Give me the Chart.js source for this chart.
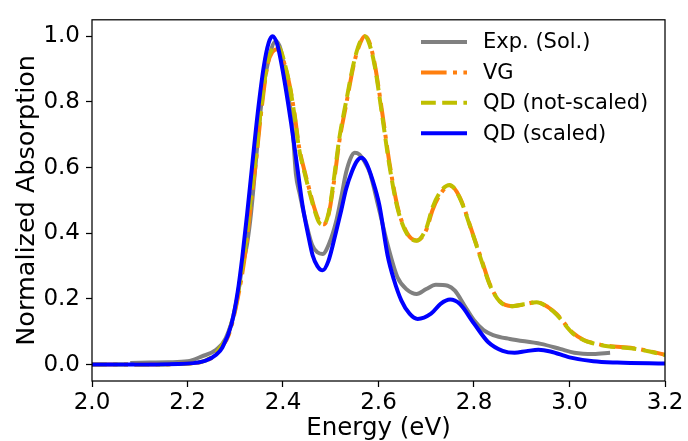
<!DOCTYPE html>
<html>
<head>
<meta charset="utf-8">
<script src="https://cdn.jsdelivr.net/npm/chart.js@4.4.0/dist/chart.umd.min.js"></script>
<style>
  html, body { margin: 0; padding: 0; background: #fff; }
</style>
</head>
<body>
<canvas id="myChart" width="688" height="441"></canvas>
<script>
// absorption spectra, energy in eV
var expE = [2.08,2.12,2.16,2.20,2.23,2.26,2.28,2.30,2.315,2.325,2.333,2.342,2.355,2.37,2.385,2.395,2.41,2.42,2.427,2.435,2.447,2.461,2.472,2.483,2.497,2.511,2.522,2.532,2.542,2.55,2.56,2.57,2.582,2.60,2.62,2.64,2.66,2.68,2.70,2.72,2.745,2.76,2.78,2.80,2.82,2.84,2.875,2.94,2.98,3.01,3.05,3.085];
var expY = [0.005,0.006,0.007,0.01,0.025,0.045,0.08,0.17,0.3,0.37,0.46,0.6,0.8,0.93,0.985,0.96,0.83,0.72,0.58,0.52,0.44,0.364,0.342,0.337,0.37,0.434,0.51,0.584,0.63,0.645,0.64,0.62,0.584,0.48,0.36,0.265,0.228,0.215,0.23,0.243,0.24,0.225,0.18,0.135,0.105,0.09,0.078,0.063,0.048,0.036,0.032,0.036];

var vgE = [2.0,2.1,2.2,2.25,2.27,2.287,2.308,2.322,2.332,2.343,2.354,2.368,2.378,2.388,2.396,2.403,2.414,2.424,2.434,2.445,2.455,2.465,2.475,2.485,2.496,2.507,2.518,2.532,2.55,2.562,2.571,2.58,2.592,2.608,2.623,2.64,2.66,2.68,2.70,2.713,2.73,2.749,2.77,2.797,2.818,2.833,2.854,2.88,2.905,2.931,2.955,2.973,3.007,3.03,3.049,3.08,3.133,3.17,3.2];
var vgY = [0,0,0.003,0.02,0.05,0.093,0.223,0.35,0.48,0.614,0.765,0.916,0.952,0.96,0.948,0.916,0.85,0.765,0.66,0.59,0.534,0.48,0.44,0.427,0.46,0.56,0.68,0.79,0.925,0.98,1.0,0.985,0.916,0.765,0.614,0.48,0.40,0.378,0.41,0.47,0.52,0.545,0.51,0.40,0.31,0.245,0.193,0.178,0.183,0.19,0.175,0.154,0.097,0.075,0.066,0.057,0.05,0.04,0.03];

// QD (not-scaled) shares the VG energy grid
var qdY = [0,0,0.003,0.022,0.055,0.1,0.235,0.37,0.5,0.635,0.78,0.925,0.962,0.97,0.955,0.92,0.85,0.76,0.655,0.585,0.528,0.475,0.434,0.426,0.465,0.57,0.69,0.80,0.93,0.985,1.0,0.98,0.91,0.755,0.605,0.475,0.397,0.377,0.415,0.478,0.527,0.547,0.508,0.398,0.306,0.243,0.192,0.178,0.184,0.19,0.174,0.152,0.095,0.074,0.065,0.056,0.049,0.039,0.029];

var qdsE = [2.0,2.1,2.2,2.238,2.26,2.273,2.292,2.305,2.315,2.325,2.335,2.347,2.36,2.37,2.378,2.388,2.40,2.417,2.43,2.441,2.452,2.462,2.472,2.483,2.495,2.511,2.522,2.532,2.545,2.555,2.564,2.574,2.588,2.602,2.619,2.632,2.648,2.665,2.682,2.71,2.73,2.75,2.77,2.80,2.83,2.86,2.885,2.91,2.935,2.96,3.0,3.05,3.1,3.2];
var qdsY = [0,0,0.003,0.012,0.03,0.052,0.123,0.22,0.33,0.46,0.6,0.765,0.91,0.98,1.0,0.975,0.89,0.735,0.60,0.484,0.40,0.333,0.30,0.287,0.315,0.404,0.47,0.534,0.59,0.62,0.63,0.615,0.56,0.484,0.333,0.26,0.195,0.155,0.139,0.155,0.185,0.198,0.185,0.125,0.068,0.042,0.036,0.041,0.045,0.04,0.022,0.01,0.006,0.003];

var xTicks = [2.0, 2.2, 2.4, 2.6, 2.8, 3.0, 3.2];
var yTicks = [0.0, 0.2, 0.4, 0.6, 0.8, 1.0];
var labels = ["Exp. (Sol.)", "VG", "QD (not-scaled)", "QD (scaled)"];

function pts(xs, ys) {
  return xs.map(function (x, i) { return {x: x, y: ys[i]}; });
}

Chart.defaults.font.family = "'DejaVu Sans', sans-serif";
Chart.defaults.color = "#000";

// box around the plot area
var frame = {
  id: "frame",
  afterDraw: function (chart) {
    var a = chart.chartArea, c = chart.ctx;
    c.save();
    c.strokeStyle = "#000";
    c.lineWidth = 1.25;
    c.strokeRect(a.left, a.top, a.right - a.left, a.bottom - a.top);
    c.restore();
  }
};

// matplotlib-like legend, no frame
var lineLegend = {
  id: "lineLegend",
  afterDraw: function (chart) {
    var c = chart.ctx;
    c.save();
    c.font = "21px 'DejaVu Sans'";
    c.textBaseline = "middle";
    c.fillStyle = "#000";
    chart.data.datasets.forEach(function (ds, row) {
      var y = 42 + row * 30.4;
      c.strokeStyle = ds.borderColor;
      c.lineWidth = ds.borderWidth;
      c.setLineDash(ds.borderDash || []);
      c.lineCap = "butt";
      c.beginPath();
      c.moveTo(421, y);
      c.lineTo(467, y);
      c.stroke();
      c.setLineDash([]);
      c.fillText(ds.label, 483, y + 1);
    });
    c.restore();
  }
};

var ctx = document.getElementById("myChart").getContext("2d");
var myChart = new Chart(ctx, {
  type: "line",
  data: {
    datasets: [
      {
        label: labels[0],
        data: pts(expE, expY),
        borderColor: "#808080",
        borderWidth: 4,
        order: 3
      },
      {
        label: labels[1],
        data: pts(vgE, vgY),
        borderColor: "#ff7f0e",
        borderWidth: 4,
        borderDash: [25.6, 6.4, 4, 6.4],
        order: 2
      },
      {
        label: labels[2],
        data: pts(vgE, qdY),
        borderColor: "#bfbf00",
        borderWidth: 4,
        borderDash: [14.8, 6.4],
        order: 1
      },
      {
        label: labels[3],
        data: pts(qdsE, qdsY),
        borderColor: "#0000ff",
        borderWidth: 4,
        order: 0
      }
    ]
  },
  options: {
    responsive: false,
    animation: false,
    devicePixelRatio: 1,
    layout: { padding: { top: 13, right: 23, left: 0, bottom: 0 } },
    elements: {
      point: { radius: 0 },
      line: { cubicInterpolationMode: "monotone", borderCapStyle: "butt", fill: false }
    },
    plugins: {
      legend: { display: false },
      tooltip: { enabled: false }
    },
    scales: {
      x: {
        type: "linear",
        min: 2.0,
        max: 3.2,
        afterBuildTicks: function (s) { s.ticks = xTicks.map(function (v) { return {value: v}; }); },
        afterFit: function (s) { s.height = 60; },
        grid: { drawOnChartArea: false, drawTicks: true, tickLength: 6, tickWidth: 1.25, tickColor: "#000" },
        border: { display: false },
        ticks: {
          font: { size: 23 },
          padding: 2,
          maxRotation: 0,
          callback: function (v) { return v.toFixed(1); }
        },
        title: {
          display: true,
          text: "Energy (eV)",
          font: { size: 24.5 },
          padding: { top: 0, bottom: -2 }
        }
      },
      y: {
        type: "linear",
        min: -0.05,
        max: 1.05,
        afterBuildTicks: function (s) { s.ticks = yTicks.map(function (v) { return {value: v}; }); },
        afterFit: function (s) { s.width = 92; },
        grid: { drawOnChartArea: false, drawTicks: true, tickLength: 6, tickWidth: 1.25, tickColor: "#000" },
        border: { display: false },
        ticks: {
          font: { size: 23 },
          padding: 6,
          callback: function (v) { return v.toFixed(1); }
        },
        title: {
          display: true,
          text: "Normalized Absorption",
          font: { size: 25.5 },
          padding: { top: 12.5, bottom: 0 }
        }
      }
    }
  },
  plugins: [frame, lineLegend]
});
</script>
</body>
</html>
